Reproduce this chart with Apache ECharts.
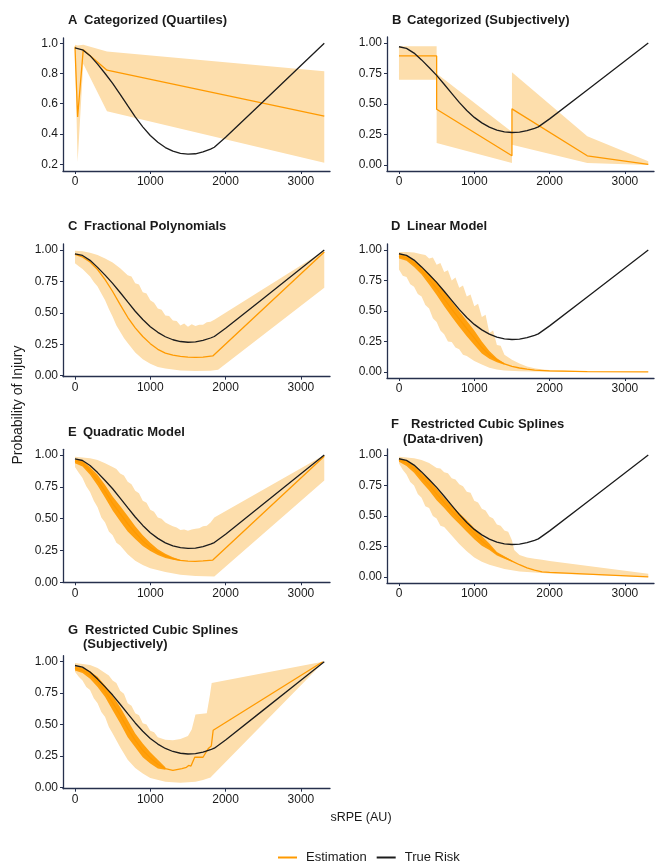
<!DOCTYPE html>
<html><head><meta charset="utf-8">
<script src="https://cdn.jsdelivr.net/npm/echarts@6/dist/echarts.min.js"></script>
<style>html,body{margin:0;padding:0;background:#fff}#c{width:657px;height:862px}</style>
</head><body><div id="c"></div>
<script>
// ---------- tick labels ----------
const xTicks = [0, 1000, 2000, 3000];
const yTicksA = [0.2, 0.4, 0.6, 0.8, 1.0];
const yTicks = [0, 0.25, 0.5, 0.75, 1.0];

// ---------- true risk ----------
const trueX = [0,100,200,300,400,500,600,700,800,900,1000,1100,1200,1300,1400,1500,1600,1700,1800,1850,2000,2500,3000,3310];
const trueY = [0.970,0.957,0.918,0.862,0.800,0.735,0.662,0.587,0.513,0.447,0.390,0.345,0.310,0.286,0.272,0.266,0.269,0.281,0.300,0.312,0.378,0.615,0.853,1.000];

// ---------- A: Categorized (Quartiles) ----------
const aX   = [0, 35, 110, 425, 3310];
const aEst = [0.978, 0.512, 0.958, 0.822, 0.518];
const aHi  = [0.99, 0.985, 0.99, 0.945, 0.815];
const aLo  = [0.955, 0.215, 0.865, 0.55, 0.21];

// ---------- B: Categorized (Subjectively) ----------
const bX   = [0, 500, 500, 1500, 1500, 2500, 3310];
const bEst = [0.895, 0.895, 0.457, 0.075, 0.46, 0.075, 0.005];
const bHi  = [0.975, 0.975, 0.75, 0.27, 0.76, 0.235, 0.03];
const bLo  = [0.70, 0.70, 0.18, 0.015, 0.165, 0.015, 0.0];

// ---------- C: Fractional Polynomials ----------
const cEstX = [0,100,200,300,400,500,600,700,800,900,1000,1100,1200,1300,1400,1500,1600,1700,1830,3310];
const cEst  = [0.965,0.945,0.905,0.845,0.765,0.67,0.565,0.465,0.38,0.312,0.255,0.21,0.18,0.163,0.153,0.148,0.146,0.148,0.157,0.985];
const cHiX = [0,100,200,300,400,500,600,700,750,800,850,900,950,1000,1050,1100,1150,1200,1250,1300,1350,1400,1450,1500,1550,1600,1650,1700,1750,1800,1850,3310];
const cHi  = [0.995,0.99,0.978,0.96,0.932,0.90,0.855,0.80,0.79,0.735,0.725,0.665,0.655,0.60,0.58,0.535,0.525,0.48,0.475,0.44,0.435,0.40,0.415,0.39,0.41,0.395,0.405,0.405,0.425,0.43,0.445,0.995];
const cLoX = [0,50,100,150,200,250,300,350,400,450,500,550,600,650,700,800,900,1000,1100,1200,1400,1600,1800,1900,3310];
const cLo  = [0.895,0.87,0.85,0.82,0.79,0.745,0.71,0.655,0.60,0.53,0.47,0.40,0.35,0.30,0.26,0.185,0.13,0.095,0.07,0.057,0.042,0.038,0.04,0.048,0.70];

// ---------- D: Linear Model ----------
const dEstX = [0,100,200,300,400,500,600,700,800,900,1000,1100,1200,1300,1400,1500,1600,1700,1800,2000,2500,3310];
const dEst  = [0.948,0.935,0.89,0.832,0.76,0.685,0.60,0.515,0.435,0.355,0.28,0.20,0.14,0.098,0.066,0.045,0.032,0.022,0.015,0.008,0.003,0.0];
const dRibX  = [0,100,200,300,400,500,600,700,800,900,1000,1100,1200,1300,1400];
const dRibLo = [0.93,0.912,0.862,0.80,0.718,0.632,0.54,0.452,0.37,0.292,0.22,0.152,0.108,0.08,0.058];
const dRibHi = [0.965,0.955,0.912,0.862,0.80,0.74,0.66,0.58,0.50,0.42,0.34,0.25,0.172,0.112,0.072];
const dHiX = [0,100,200,300,350,400,450,500,550,600,650,700,750,800,850,900,950,1000,1050,1100,1150,1200,1250,1300,1350,1400,1500,1600,1700,1800,1900,2000,2500,3310];
const dHi  = [0.985,0.985,0.98,0.965,0.96,0.93,0.94,0.88,0.895,0.82,0.835,0.75,0.775,0.69,0.71,0.62,0.635,0.54,0.56,0.45,0.47,0.32,0.34,0.22,0.215,0.14,0.10,0.07,0.045,0.03,0.02,0.015,0.005,0.0];
const dLoX = [0,50,100,150,200,250,300,350,400,450,500,550,600,650,700,750,800,850,900,1000,1100,1200,1300,1400,1600,2000,3310];
const dLo  = [0.84,0.79,0.78,0.72,0.70,0.64,0.62,0.55,0.52,0.44,0.41,0.34,0.31,0.25,0.245,0.20,0.185,0.14,0.13,0.09,0.06,0.035,0.02,0.012,0.005,0.002,0.0];

// ---------- E: Quadratic Model ----------
const eEstX = [0,100,200,300,400,500,600,700,800,900,1000,1100,1200,1300,1400,1500,1600,1700,1830,3310];
const eEst  = [0.955,0.935,0.875,0.80,0.715,0.62,0.54,0.46,0.39,0.325,0.275,0.237,0.207,0.187,0.172,0.166,0.165,0.168,0.175,0.99];
const eRibX  = [0,100,200,300,400,500,600,700,800,900,1000,1100,1200,1300,1400];
const eRibLo = [0.935,0.91,0.845,0.76,0.665,0.565,0.48,0.40,0.34,0.285,0.245,0.215,0.19,0.178,0.168];
const eRibHi = [0.965,0.955,0.905,0.845,0.765,0.675,0.60,0.52,0.44,0.37,0.31,0.26,0.225,0.197,0.176];
const eHiX = [0,200,300,400,500,550,600,650,700,750,800,850,900,950,1000,1050,1100,1150,1200,1250,1300,1350,1400,1450,1500,1550,1600,1650,1700,1750,1800,1850,3310];
const eHi  = [0.987,0.975,0.96,0.935,0.905,0.89,0.855,0.84,0.79,0.77,0.72,0.70,0.64,0.625,0.57,0.555,0.51,0.50,0.47,0.455,0.44,0.43,0.41,0.415,0.405,0.415,0.42,0.425,0.44,0.445,0.47,0.51,1.0];
const eLoX = [0,50,100,150,200,250,300,350,400,450,500,550,600,700,800,900,1000,1200,1400,1600,1850,3310];
const eLo  = [0.905,0.86,0.82,0.755,0.71,0.64,0.59,0.51,0.47,0.40,0.37,0.31,0.29,0.22,0.17,0.135,0.11,0.08,0.06,0.05,0.045,0.80];

// ---------- F: Restricted Cubic Splines (Data-driven) ----------
const fEstX = [0,100,200,300,400,500,600,700,800,900,1000,1100,1200,1300,1400,1500,1600,1700,1800,1900,2000,3310];
const fEst  = [0.96,0.935,0.885,0.82,0.755,0.68,0.61,0.54,0.48,0.42,0.355,0.295,0.245,0.192,0.16,0.13,0.10,0.075,0.055,0.042,0.038,0.0];
const fRibX  = [0,100,200,300,400,500,600,700,800,900,1000,1100,1200,1300,1400,1500];
const fRibLo = [0.945,0.91,0.855,0.78,0.71,0.63,0.565,0.495,0.435,0.37,0.31,0.255,0.22,0.175,0.15,0.125];
const fRibHi = [0.973,0.955,0.915,0.855,0.80,0.725,0.65,0.585,0.525,0.465,0.40,0.335,0.275,0.205,0.17,0.135];
const fHiX = [0,200,300,400,500,550,600,650,700,750,800,850,900,950,1000,1050,1100,1150,1200,1250,1300,1350,1400,1450,1500,1530,1600,1700,1800,1900,2000,3310];
const fHi  = [0.986,0.975,0.96,0.935,0.895,0.89,0.86,0.85,0.81,0.80,0.76,0.745,0.70,0.69,0.625,0.61,0.56,0.545,0.495,0.48,0.43,0.42,0.38,0.37,0.30,0.22,0.18,0.16,0.15,0.14,0.13,0.025];
const fLoX = [0,50,100,150,200,250,300,350,400,450,500,550,600,700,800,900,1000,1100,1200,1400,1600,2000,3310];
const fLo  = [0.93,0.88,0.84,0.78,0.75,0.68,0.65,0.58,0.565,0.50,0.48,0.42,0.41,0.34,0.27,0.21,0.16,0.125,0.10,0.065,0.045,0.027,0.0];

// ---------- G: Restricted Cubic Splines (Subjectively) ----------
const gEstX = [0,100,200,300,400,500,600,700,800,900,1000,1100,1200,1300,1420,1480,1510,1540,1590,1700,1770,1810,1835,3290];
const gEst  = [0.95,0.93,0.895,0.84,0.765,0.675,0.575,0.47,0.375,0.295,0.235,0.185,0.15,0.135,0.15,0.16,0.175,0.17,0.24,0.24,0.31,0.33,0.455,1.0];
const gRibX  = [0,100,200,300,400,500,600,700,800,900,1000,1100,1200];
const gRibLo = [0.93,0.91,0.865,0.80,0.72,0.615,0.51,0.40,0.32,0.24,0.19,0.15,0.14];
const gRibHi = [0.965,0.955,0.925,0.88,0.81,0.73,0.64,0.535,0.43,0.35,0.28,0.22,0.16];
const gHiX = [0,200,300,400,450,500,550,600,650,700,750,800,850,900,950,1000,1050,1100,1200,1300,1400,1500,1550,1600,1750,1790,1815,3290];
const gHi  = [0.99,0.975,0.95,0.91,0.89,0.85,0.83,0.77,0.745,0.67,0.65,0.59,0.575,0.51,0.50,0.45,0.44,0.40,0.38,0.375,0.385,0.41,0.46,0.58,0.59,0.73,0.83,1.0];
const gLoX = [0,50,100,150,200,250,300,350,400,450,500,600,700,800,900,1000,1200,1400,1600,1700,1800,1815,3290];
const gLo  = [0.92,0.88,0.85,0.80,0.775,0.71,0.67,0.60,0.56,0.48,0.43,0.32,0.22,0.155,0.11,0.075,0.045,0.037,0.045,0.06,0.08,0.09,0.99];

// ---------- styling / layout ----------
const FONT = '"Liberation Sans", Arial, sans-serif';
const ORANGE = '#FF9A00', BAND = '#FDDEAC', RIB = '#FF9A00', BLACK = '#1c1c1c', AXIS = '#26304d', TXT = '#1a1a1a';
const X_MIN = -159, X_MAX = 3386;

const panels = [
  {tag:'A', tagX:68, tx:84, ty:20, title:['Categorized (Quartiles)'], left:63, top:38, height:133, ymin:0.155, ymax:1.035, ticks:yTicksA, dec:1,
   estX:aX, est:aEst, hiX:aX, hi:aHi, loX:aX, lo:aLo},
  {tag:'B', tagX:392, tx:407, ty:20, title:['Categorized (Subjectively)'], left:387, top:37, height:134, ymin:-0.05, ymax:1.05, ticks:yTicks, dec:2,
   estX:bX, est:bEst, hiX:bX, hi:bHi, loX:bX, lo:bLo},
  {tag:'C', tagX:68, tx:84, ty:226, title:['Fractional Polynomials'], left:63, top:244, height:132.7, ymin:-0.008, ymax:1.048, ticks:yTicks, dec:2,
   estX:cEstX, est:cEst, hiX:cHiX, hi:cHi, loX:cLoX, lo:cLo},
  {tag:'D', tagX:391, tx:407, ty:226, title:['Linear Model'], left:387, top:244, height:134, ymin:-0.05, ymax:1.05, ticks:yTicks, dec:2,
   estX:dEstX, est:dEst, hiX:dHiX, hi:dHi, loX:dLoX, lo:dLo, rib:[dRibX, dRibLo, dRibHi]},
  {tag:'E', tagX:68, tx:83, ty:432, title:['Quadratic Model'], left:63, top:449.3, height:133, ymin:0, ymax:1.045, ticks:yTicks, dec:2,
   estX:eEstX, est:eEst, hiX:eHiX, hi:eHi, loX:eLoX, lo:eLo, rib:[eRibX, eRibLo, eRibHi]},
  {tag:'F', tagX:391, tx:411, ty:424.3, title:['Restricted Cubic Splines', '(Data-driven)'], tx2:403, ty2:439.3, left:387, top:449, height:134, ymin:-0.05, ymax:1.05, ticks:yTicks, dec:2,
   estX:fEstX, est:fEst, hiX:fHiX, hi:fHi, loX:fLoX, lo:fLo, rib:[fRibX, fRibLo, fRibHi]},
  {tag:'G', tagX:68, tx:85, ty:630, title:['Restricted Cubic Splines', '(Subjectively)'], tx2:83, ty2:644.3, left:63, top:655.7, height:133, ymin:-0.01, ymax:1.048, ticks:yTicks, dec:2,
   estX:gEstX, est:gEst, hiX:gHiX, hi:gHi, loX:gLoX, lo:gLo, rib:[gRibX, gRibLo, gRibHi]}
];

function zip(xs, ys) { return xs.map((x, k) => [x, ys[k]]); }

function polySeries(i, hiX, hiY, loX, loY, color, z, opacity) {
  const pts = zip(hiX, hiY);
  for (let k = loX.length - 1; k >= 0; k--) pts.push([loX[k], loY[k]]);
  return {
    type: 'custom', xAxisIndex: i, yAxisIndex: i, silent: true, animation: false, z: z, clip: true,
    data: pts, encode: {x: 0, y: 1},
    renderItem: function (params, api) {
      if (params.dataIndex !== 0) return null;
      return {type: 'polygon', shape: {points: pts.map(p => api.coord(p))}, style: {fill: color, stroke: null, opacity: opacity}};
    }
  };
}

const grids = [], xAxes = [], yAxes = [], series = [], graphics = [];
panels.forEach((p, i) => {
  grids.push({left: p.left, top: p.top, width: 267, height: p.height, containLabel: false, outerBoundsMode: 'none'});
  xAxes.push({
    type: 'value', gridIndex: i, min: X_MIN, max: X_MAX,
    axisLine: {show: true, onZero: false, lineStyle: {color: AXIS, width: 1.3}},
    axisTick: {show: true, length: 3, customValues: xTicks, lineStyle: {color: AXIS, width: 1}},
    axisLabel: {customValues: xTicks, margin: 5, color: TXT, fontFamily: FONT, fontSize: 12,
      formatter: (v) => String(Math.round(v))},
    splitLine: {show: false}
  });
  yAxes.push({
    type: 'value', gridIndex: i, min: p.ymin, max: p.ymax,
    axisLine: {show: true, onZero: false, lineStyle: {color: AXIS, width: 1.3}},
    axisTick: {show: true, length: 3, customValues: p.ticks, lineStyle: {color: AXIS, width: 1}},
    axisLabel: {customValues: p.ticks, margin: 5, color: TXT, fontFamily: FONT, fontSize: 12,
      formatter: (v) => Number(v).toFixed(p.dec)},
    splitLine: {show: false}
  });
  series.push(polySeries(i, p.hiX, p.hi, p.loX, p.lo, BAND, 1, 1));
  if (p.rib) series.push(polySeries(i, p.rib[0], p.rib[2], p.rib[0], p.rib[1], RIB, 2, 0.92));
  series.push({type: 'line', name: 'Estimation', xAxisIndex: i, yAxisIndex: i, data: zip(p.estX, p.est),
    showSymbol: false, symbol: 'none', silent: true, animation: false, z: 3,
    lineStyle: {color: ORANGE, width: 1.3}, itemStyle: {color: ORANGE}});
  series.push({type: 'line', name: 'True Risk', xAxisIndex: i, yAxisIndex: i, data: zip(trueX, trueY),
    showSymbol: false, symbol: 'none', silent: true, animation: false, z: 4,
    lineStyle: {color: BLACK, width: 1.3}, itemStyle: {color: BLACK}});

  const tf = 'bold 13px ' + FONT;
  graphics.push({type: 'text', x: p.tagX, y: p.ty, style: {text: p.tag, font: tf, fill: TXT, textVerticalAlign: 'middle'}});
  graphics.push({type: 'text', x: p.tx, y: p.ty, style: {text: p.title[0], font: tf, fill: TXT, textVerticalAlign: 'middle'}});
  if (p.title[1]) graphics.push({type: 'text', x: p.tx2, y: p.ty2, style: {text: p.title[1], font: tf, fill: TXT, textVerticalAlign: 'middle'}});
});

graphics.push({type: 'text', x: 18, y: 405, rotation: Math.PI / 2,
  style: {text: 'Probability of Injury', font: '14px ' + FONT, fill: TXT, textAlign: 'center', textVerticalAlign: 'middle'}});
graphics.push({type: 'text', x: 361, y: 818,
  style: {text: 'sRPE (AU)', font: '12.5px ' + FONT, fill: TXT, textAlign: 'center', textVerticalAlign: 'middle'}});

const chart = echarts.init(document.getElementById('c'), null, {renderer: 'canvas'});
chart.setOption({
  animation: false,
  backgroundColor: '#ffffff',
  grid: grids, xAxis: xAxes, yAxis: yAxes, series: series,
  legend: {data: ['Estimation', 'True Risk'], left: 273, top: 846, icon: 'rect', itemWidth: 19, itemHeight: 2, itemGap: 10,
    selectedMode: false, textStyle: {fontFamily: FONT, fontSize: 13, color: TXT, padding: [0, 0, 0, 4]}},
  graphic: graphics
});
</script></body></html>
